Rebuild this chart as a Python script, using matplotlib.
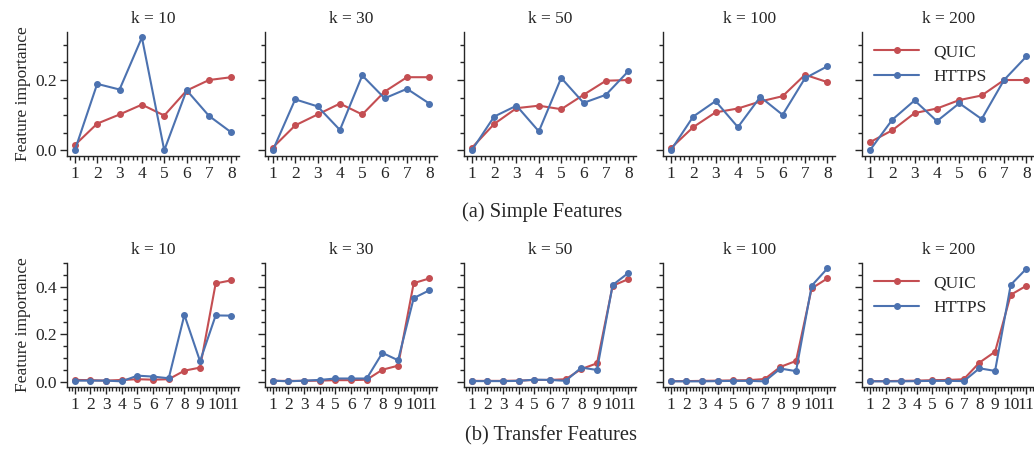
import numpy as np
import matplotlib
matplotlib.use("Agg")
import matplotlib.pyplot as plt
import seaborn as sns
from matplotlib.ticker import MultipleLocator

sns.set_style("ticks")
plt.rcParams['font.family'] = ['Liberation Serif', 'DejaVu Serif']
plt.rcParams['font.size'] = 12.5
plt.rcParams['text.color'] = '#262626'
plt.rcParams['axes.labelcolor'] = '#262626'
plt.rcParams['xtick.color'] = '#262626'
plt.rcParams['ytick.color'] = '#262626'

k_values = [10, 30, 50, 100, 200]
simple_x = [1, 2, 3, 4, 5, 6, 7, 8]
transfer_x = [1, 2, 3, 4, 5, 6, 7, 8, 9, 10, 11]

# (a) simple features, one row per k
simple_quic = [
    [0.015, 0.076, 0.102, 0.130, 0.099, 0.170, 0.200, 0.208],
    [0.008, 0.071, 0.102, 0.133, 0.102, 0.167, 0.208, 0.208],
    [0.007, 0.075, 0.120, 0.127, 0.117, 0.158, 0.198, 0.200],
    [0.006, 0.066, 0.108, 0.119, 0.139, 0.154, 0.215, 0.194],
    [0.023, 0.057, 0.106, 0.119, 0.143, 0.156, 0.200, 0.200],
]
simple_https = [
    [0.000, 0.189, 0.173, 0.321, 0.000, 0.171, 0.098, 0.051],
    [0.000, 0.145, 0.125, 0.058, 0.213, 0.148, 0.175, 0.133],
    [0.000, 0.096, 0.127, 0.054, 0.206, 0.135, 0.158, 0.225],
    [0.000, 0.096, 0.140, 0.066, 0.152, 0.101, 0.205, 0.239],
    [0.000, 0.087, 0.142, 0.083, 0.134, 0.089, 0.200, 0.267],
]

# (b) transfer features, one row per k
transfer_quic = [
    [0.007, 0.006, 0.004, 0.007, 0.010, 0.008, 0.010, 0.046, 0.059, 0.414, 0.427],
    [0.003, 0.003, 0.003, 0.004, 0.006, 0.006, 0.008, 0.050, 0.067, 0.415, 0.435],
    [0.003, 0.003, 0.003, 0.004, 0.007, 0.007, 0.010, 0.053, 0.077, 0.404, 0.432],
    [0.002, 0.002, 0.003, 0.004, 0.005, 0.006, 0.011, 0.062, 0.087, 0.393, 0.435],
    [0.002, 0.002, 0.003, 0.004, 0.006, 0.007, 0.010, 0.080, 0.126, 0.366, 0.404],
]
transfer_https = [
    [0.004, 0.004, 0.004, 0.001, 0.025, 0.021, 0.014, 0.281, 0.086, 0.279, 0.278],
    [0.004, 0.001, 0.004, 0.007, 0.013, 0.013, 0.013, 0.121, 0.090, 0.352, 0.385],
    [0.002, 0.002, 0.002, 0.003, 0.008, 0.007, 0.003, 0.059, 0.049, 0.407, 0.458],
    [0.001, 0.001, 0.001, 0.002, 0.003, 0.003, 0.001, 0.055, 0.044, 0.404, 0.477],
    [0.001, 0.001, 0.001, 0.002, 0.003, 0.003, 0.002, 0.056, 0.045, 0.408, 0.476],
]

red = '#c44e52'
blue = '#4c72b0'

fig = plt.figure(figsize=(10.34, 4.54), dpi=100)
lefts = [0.0648, 0.2563, 0.4487, 0.6412, 0.8337]
width = 0.1665
rows = [
    (0.6564, simple_x, simple_quic, simple_https, '(a) Simple Features', 0.524, 0.533),
    (0.1476, transfer_x, transfer_quic, transfer_https, '(b) Transfer Features', 0.533, 0.040),
]

for bottom, xs, quic, https, caption, cap_x, cap_y in rows:
    first = None
    for i, k in enumerate(k_values):
        ax = fig.add_axes([lefts[i], bottom, width, 0.2735], sharey=first)
        if first is None:
            first = ax
        ax.plot(xs, quic[i], color=red, marker='o', markersize=4, lw=1.5, label='QUIC')
        ax.plot(xs, https[i], color=blue, marker='o', markersize=4, lw=1.5, label='HTTPS')
        ax.set_title(f'k = {k}', fontsize=12.5, pad=6)
        ax.set_xticks(xs)
        ax.xaxis.set_minor_locator(MultipleLocator(0.2))
        ax.yaxis.set_major_locator(MultipleLocator(0.2))
        ax.yaxis.set_minor_locator(MultipleLocator(0.05))
        ax.tick_params(which='major', length=5, width=1.0, labelsize=12.5, pad=2)
        ax.tick_params(which='minor', length=3, width=1.0)
        for s in ['left', 'bottom']:
            ax.spines[s].set_linewidth(1.0)
            ax.spines[s].set_color('#262626')
        sns.despine(ax=ax)
        if i == 0:
            ax.set_ylabel('Feature importance', fontsize=12.5, labelpad=3)
        else:
            plt.setp(ax.get_yticklabels(), visible=False)
        if i == len(k_values) - 1:
            ax.legend(loc='upper left', frameon=False, fontsize=12.5,
                      handlelength=2.6, borderaxespad=0.3)
    first.yaxis.set_major_formatter(plt.FormatStrFormatter('%.1f'))
    fig.text(cap_x, cap_y, caption, ha='center', va='center', fontsize=14.8)

fig.savefig('out.png', dpi=100)
